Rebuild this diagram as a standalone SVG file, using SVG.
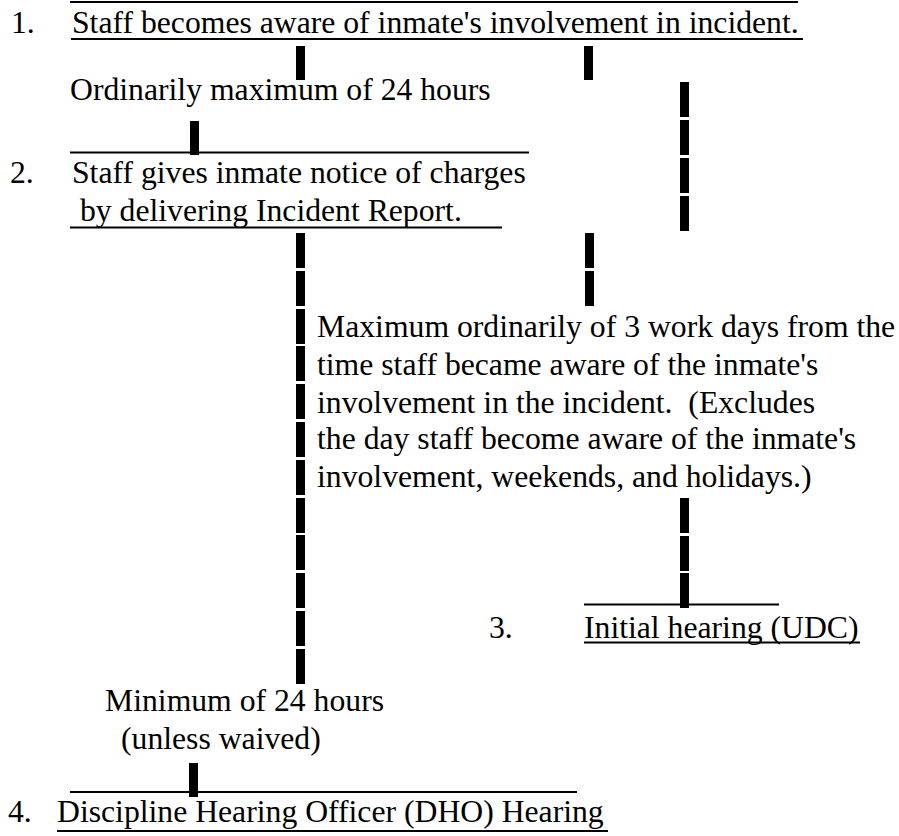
<svg xmlns="http://www.w3.org/2000/svg" width="899" height="836" viewBox="0 0 899 836">
<style>
text{font-family:"Liberation Serif","Times New Roman",serif;font-size:31.7px;fill:#000;white-space:pre}
.rule{stroke:#000;stroke-width:2;fill:none}
.bar{fill:#000}
</style>
<rect width="899" height="836" fill="#fff"/>
<g id="connectors">
<rect class="bar" x="296" y="46" width="9" height="34"/>
<rect class="bar" x="584" y="46" width="9" height="34"/>
<rect class="bar" x="190" y="121" width="9" height="34"/>
<rect class="bar" x="680" y="82" width="9" height="35"/>
<rect class="bar" x="680" y="120" width="9" height="35"/>
<rect class="bar" x="680" y="158" width="9" height="35"/>
<rect class="bar" x="680" y="196" width="9" height="35"/>
<rect class="bar" x="296" y="233" width="9" height="35"/>
<rect class="bar" x="296" y="271" width="9" height="35"/>
<rect class="bar" x="296" y="309" width="9" height="35"/>
<rect class="bar" x="296" y="346" width="9" height="35"/>
<rect class="bar" x="296" y="384" width="9" height="35"/>
<rect class="bar" x="296" y="422" width="9" height="35"/>
<rect class="bar" x="296" y="460" width="9" height="35"/>
<rect class="bar" x="296" y="498" width="9" height="35"/>
<rect class="bar" x="296" y="535" width="9" height="35"/>
<rect class="bar" x="296" y="573" width="9" height="35"/>
<rect class="bar" x="296" y="611" width="9" height="35"/>
<rect class="bar" x="296" y="649" width="9" height="35"/>
<rect class="bar" x="585" y="233" width="9" height="35"/>
<rect class="bar" x="585" y="271" width="9" height="35"/>
<rect class="bar" x="680" y="498" width="9" height="35"/>
<rect class="bar" x="680" y="536" width="9" height="35"/>
<rect class="bar" x="680" y="573" width="9" height="35"/>
<rect class="bar" x="189" y="763" width="9" height="34"/>
</g>
<g id="step1">
<line class="rule" x1="70" y1="2" x2="798" y2="2"/>
<text x="11" y="33">1.</text>
<text x="72" y="33">Staff becomes aware of inmate's involvement in incident.</text>
<line class="rule" x1="71" y1="39" x2="803" y2="39"/>
</g>
<g id="label-24h">
<text x="70" y="100">Ordinarily maximum of 24 hours</text>
</g>
<g id="step2">
<line class="rule" x1="70" y1="152.5" x2="529" y2="152.5"/>
<text x="10" y="183">2.</text>
<text x="72" y="183">Staff gives inmate notice of charges</text>
<text x="72" y="221"> by delivering Incident Report.</text>
<line class="rule" x1="70" y1="227.5" x2="502" y2="227.5"/>
</g>
<g id="label-3days">
<text x="317" y="337">Maximum ordinarily of 3 work days from the</text>
<text x="317" y="375">time staff became aware of the inmate's</text>
<text x="317" y="413">involvement in the incident.  (Excludes</text>
<text x="317" y="449">the day staff become aware of the inmate's</text>
<text x="317" y="487">involvement, weekends, and holidays.)</text>
</g>
<g id="step3">
<line class="rule" x1="584" y1="604.5" x2="779" y2="604.5"/>
<text x="489" y="638">3.</text>
<text x="584" y="638">Initial hearing (UDC)</text>
<line class="rule" x1="584" y1="642.5" x2="860" y2="642.5"/>
</g>
<g id="label-min24">
<text x="105" y="711">Minimum of 24 hours</text>
<text x="121" y="749">(unless waived)</text>
</g>
<g id="step4">
<line class="rule" x1="70" y1="792" x2="577" y2="792"/>
<text x="8" y="822">4.</text>
<text x="57" y="822">Discipline Hearing Officer (DHO) Hearing</text>
<line class="rule" x1="57" y1="831" x2="608" y2="831"/>
</g>
</svg>
